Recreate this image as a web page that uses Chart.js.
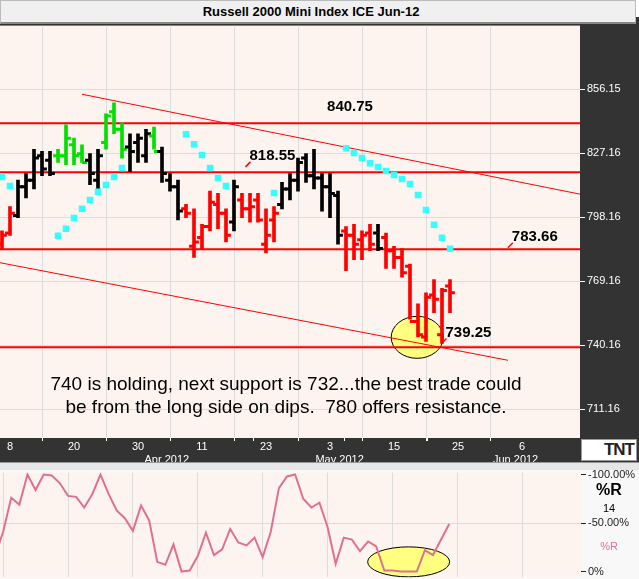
<!DOCTYPE html>
<html><head><meta charset="utf-8">
<script src="https://cdn.jsdelivr.net/npm/chart.js@4"></script>
<style>
body{margin:0;width:639px;height:579px;overflow:hidden;background:#fff;font-family:"Liberation Sans",Arial,sans-serif;position:relative}
#title{position:absolute;left:0;top:0;width:634px;height:21px;background:#f0f0f0;border:1px solid #bbb;border-bottom:2px solid #888;font-weight:bold;font-size:13px;line-height:21px;z-index:2}
#title span{position:absolute;left:310px;transform:translateX(-50%);white-space:nowrap}
#c1{position:absolute;left:-7px;top:17px}
#sep{position:absolute;left:0;top:462px;width:639px;height:8px;background:#e6e6e6;border-top:1px solid #999;box-sizing:border-box;z-index:2}
#c2{position:absolute;left:-7px;top:464px}
.lab{position:absolute;white-space:nowrap;transform:translateX(-50%);z-index:3}
#tnt{position:absolute;left:581px;top:439px;width:56px;height:22px;background:#fff;border:1px solid #999;box-sizing:border-box;color:#222;font-weight:bold;font-size:17px;line-height:20px;text-align:right;padding-right:2px;letter-spacing:-1px;z-index:3}
</style></head><body>
<div id="title"><span>Russell 2000 Mini Index ICE Jun-12</span></div>
<canvas id="c1" width="646" height="445"></canvas>
<div id="sep"></div>
<canvas id="c2" width="646" height="122"></canvas>
<div id="tnt">TNT</div>
<div class="lab" style="left:609px;top:481px;font-weight:bold;font-size:16px">%R</div>
<div class="lab" style="left:609px;top:502px;font-size:11px">14</div>
<div class="lab" style="left:609px;top:540px;font-size:11px;color:#e07090">%R</div>
<script>
const highs=[792,803,815,818,829,828,828,829,840,834,831,827,829,845,850,841,836,836,838,839,830,818,815,804,802,795,810,809,802,815,809,809,809,802,803,814,818,825,827,829,818,818,810,794,795,792,795,795,791,785,784,777,759,764,770,766,770];
const lows=[784,790,798,807,811,817,817,823,822,822,823,813,811,829,836,825,819,823,823,829,814,810,797,798,780,784,792,793,787,792,798,796,796,782,787,802,806,810,814,811,801,798,786,774,779,779,783,783,775,775,771,752,744,742,755,741,755];
const opens=[786,791,799,812,815,826,824,826,826,831,827,824,815,832,846,838,830,832,826,835,828,815,812,802,785,789,794,804,800,796,806,802,806,786,797,804,811,815,825,817,816,812,808,792,790,788,791,791,789,783,780,776,751,744,763,745,767];
const closes=[790,800,812,815,825,820,818,826,834,826,823,818,826,844,838,829,828,834,836,828,818,812,801,800,787,794,805,800,790,812,802,803,797,790,800,811,815,823,817,816,812,809,790,790,786,790,786,784,783,780,773,751,745,762,761,765,764];
const barColors="RRKKKKKGGGGKKGGGKKKGKKKRRRRRRKRRRRRKKKKKKKKRRRRKRRRRRRRR".split('');
const sar=[816.4,812.4,null,null,null,null,null,789.8,793.0,797.9,802.0,806.0,809.7,812.8,816.4,820.5,null,null,null,null,null,null,null,835.8,831.3,826.4,820.5,816.0,812.4,null,null,null,null,null,809.2,null,null,null,null,null,null,null,null,829.5,827.3,825.0,822.7,820.9,819.1,817.3,815.5,813.3,808.3,801.5,794.8,788.9,783.9];
const willR=[16,41,76,69,100,84,100,99,91,78,77,66,80,100,80,63,55,42,68,53,10,7,28,0,1,16,40,17,23,44,30,27,35,15,41,86,98,100,75,66,71,46,8,35,33,21,31,26,1,1,0,0,0,22,17,33,49];
const levels=[840.75,818.55,783.66,739.25];
const levelLabels=[{t:"840.75",x:44.5,y:848.0,m:false},{t:"818.55",x:34.8,y:826.0,m:true},{t:"783.66",x:67.6,y:789.4,m:true},{t:"739.25",x:59.3,y:746.0,m:true}];
const upperTrend=[{x:11,y:853.9},{x:80.6,y:803.3}];
const lowerTrend=[{x:0.75,y:777.6},{x:64.25,y:733.4}];
const priceTicks=[711.16,740.16,769.16,798.16,827.16,856.16];
const priceTickLabels=["711.16","740.16","769.16","798.16","827.16","856.15"];
const dateTicks=[2,10,18,26,34,42,50,58,66];
const dateLabels=["8","20","30","11","23","3","15","25","6"];
const monthTicks=[21.6,43.2,65.2];
const monthLabels=["Apr 2012","May 2012","Jun 2012"];
const ellipse1={x:52.9,y:743.8,rx:26,ry:21};
const ellipse2={x:52,y:10,rx:41,ry:15};
const comment=["740 is holding, next support is 732...the best trade could","be from the long side on dips.  780 offers resistance."];
const commentPos={x:36.5,y:[722.1,711.7]};

const cmap={R:'#ff0000',K:'#000000',G:'#00e000'};
const idx=highs.map((_,i)=>i+1);
const colArr=barColors.map(c=>cmap[c]);
const XMIN=0.75,XMAX=73.25;

const bgPlugin={id:'bg',beforeDraw(ch,a,o){const c=ch.ctx,ca=ch.chartArea;c.save();c.fillStyle=o.axis;c.fillRect(0,0,ch.width,ch.height);c.fillStyle='#fdf4ef';c.fillRect(ca.left,ca.top,ca.right-ca.left,ca.bottom-ca.top);c.restore();}};
function drawEllipse(ch,e){const c=ch.ctx,x=ch.scales.x.getPixelForValue(e.x),y=ch.scales.y.getPixelForValue(e.y);c.save();c.beginPath();c.ellipse(x,y,e.rx,e.ry,0,0,Math.PI*2);c.fillStyle='#ffff80';c.fill();c.strokeStyle='#000';c.lineWidth=1;c.stroke();c.restore();}
const ell1={id:'ell1',beforeDatasetsDraw(ch){const ca=ch.chartArea;ch.ctx.save();ch.ctx.beginPath();ch.ctx.rect(ca.left,ca.top,ca.right-ca.left,ca.bottom-ca.top);ch.ctx.clip();drawEllipse(ch,ch.options.plugins.ell1.e);ch.ctx.restore();}};
const textPlugin={id:'txt',afterDatasetsDraw(ch){const c=ch.ctx,sx=ch.scales.x,sy=ch.scales.y;c.save();
 c.font='bold 15px "Liberation Sans",Arial';c.textBaseline='middle';
 levelLabels.forEach(l=>{const x=sx.getPixelForValue(l.x),y=sy.getPixelForValue(l.y);c.fillStyle='#000';c.textAlign='center';c.fillText(l.t,x,y);
  if(l.m){const w=c.measureText(l.t).width;c.strokeStyle='#ff0000';c.lineWidth=1.5;c.beginPath();c.moveTo(x-w/2-4,y+11);c.lineTo(x-w/2+1,y+6);c.stroke();}});
 c.font='19px "Liberation Sans",Arial';c.fillStyle='#000';c.textAlign='center';
 comment.forEach((t,i)=>c.fillText(t,sx.getPixelForValue(commentPos.x),sy.getPixelForValue(commentPos.y[i])));
 c.restore();}};

new Chart(document.getElementById('c1'),{
 data:{datasets:[
  ...levels.map(v=>({type:'line',data:[{x:-5,y:v},{x:90,y:v}],borderColor:'#ff0000',borderWidth:2,pointRadius:0,order:5})),
  {type:'line',data:upperTrend,borderColor:'#ff0000',borderWidth:1,pointRadius:0,order:5},
  {type:'line',data:lowerTrend,borderColor:'#ff0000',borderWidth:1,pointRadius:0,order:5},
  {type:'bar',data:idx.map((x,i)=>({x,y:[lows[i],highs[i]]})),backgroundColor:colArr,barThickness:3,order:3},
  {type:'scatter',data:idx.map((x,i)=>({x:x-0.3,y:opens[i]})),pointStyle:'line',radius:2.5,borderWidth:3,borderColor:colArr,order:2},
  {type:'scatter',data:idx.map((x,i)=>({x:x+0.3,y:closes[i]})),pointStyle:'line',radius:2.5,borderWidth:3,borderColor:colArr,order:2},
  {type:'scatter',data:idx.map((x,i)=>({x,y:sar[i]})),pointStyle:'rect',radius:4.6,backgroundColor:'#33ffff',borderWidth:0,order:1}
 ]},
 options:{responsive:false,animation:false,layout:{padding:{top:1,left:0,right:0,bottom:0}},
  plugins:{legend:{display:false},tooltip:{enabled:false},bg:{axis:'#333333'},ell1:{e:ellipse1}},
  scales:{
   x:{type:'linear',min:XMIN,max:XMAX,offset:false,
    afterBuildTicks:s=>{s.ticks=dateTicks.map(v=>({value:v})).concat(monthTicks.map(v=>({value:v})));},
    afterFit:s=>{s.height=24;},
    ticks:{autoSkip:false,maxRotation:0,padding:0,color:'#fff',font:{size:11,family:'"Liberation Sans",Arial',lineHeight:1.15},
     callback:(v)=>{const i=dateTicks.indexOf(v);if(i>=0)return[dateLabels[i],''];const j=monthTicks.indexOf(v);return j>=0?['',monthLabels[j]]:'';}},
    grid:{color:c=>dateTicks.includes(c.tick&&c.tick.value)?'#dcdcdc':'rgba(0,0,0,0)',tickLength:3,tickColor:'#fff'},border:{display:false}},
   y:{position:'right',min:698.2,max:885,
    afterBuildTicks:s=>{s.ticks=priceTicks.map(v=>({value:v}));},
    afterFit:s=>{s.width=59;},
    ticks:{color:'#fff',padding:2,font:{size:11,family:'"Liberation Sans",Arial'},callback:v=>{const i=priceTicks.indexOf(v);return i>=0?priceTickLabels[i]:'';}},
    grid:{color:'#dcdcdc',tickLength:5,tickColor:'#fff'},border:{display:false}}
  }},
 plugins:[bgPlugin,ell1,textPlugin]
});

new Chart(document.getElementById('c2'),{
 data:{datasets:[{type:'line',data:idx.map((x,i)=>({x,y:willR[i]})),borderColor:'#e07090',borderWidth:2,pointRadius:0,tension:0}]},
 options:{responsive:false,animation:false,layout:{padding:0},
  plugins:{legend:{display:false},tooltip:{enabled:false},bg:{axis:'#f8f8f8'},ell1:{e:ellipse2}},
  scales:{
   x:{type:'linear',min:XMIN,max:XMAX,display:true,afterBuildTicks:s=>{s.ticks=dateTicks.map(v=>({value:v}));},afterFit:s=>{s.height=0;},ticks:{display:false},grid:{color:'#dcdcdc',drawTicks:false},border:{display:false}},
   y:{position:'right',min:-6,max:102,afterBuildTicks:s=>{s.ticks=[0,50,100].map(v=>({value:v}));},afterFit:s=>{s.width=58;},
    ticks:{color:'#222',padding:2,font:{size:11,family:'"Liberation Sans",Arial'},callback:v=>({0:'0%',50:'-50.00%',100:'-100.00%'})[v]},
    grid:{color:c=>c.tick&&c.tick.value===50?'#dcdcdc':'rgba(0,0,0,0)',tickLength:5,tickColor:'#222'},border:{display:false}}
  }},
 plugins:[bgPlugin,ell1]
});
</script></body></html>
